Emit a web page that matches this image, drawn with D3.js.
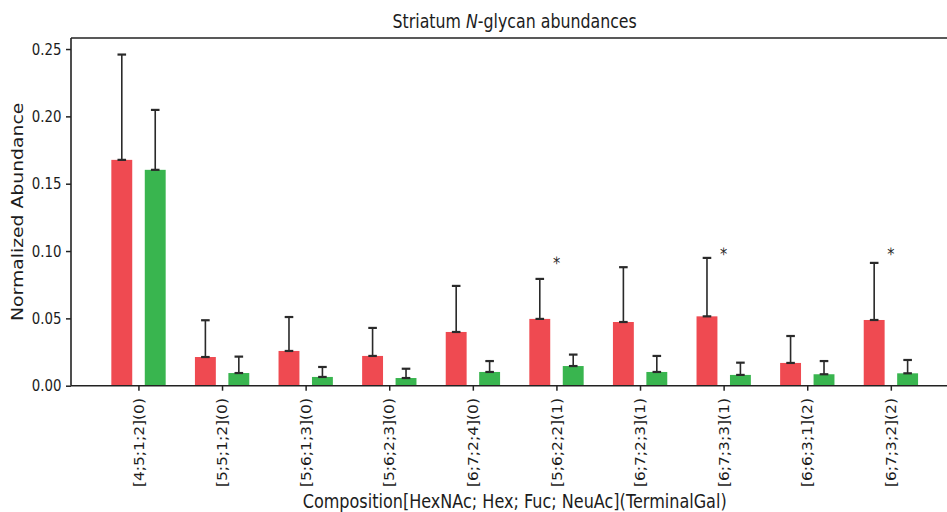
<!DOCTYPE html>
<html>
<head>
<meta charset="utf-8">
<script src="https://cdn.jsdelivr.net/npm/d3@7"></script>
<style>
  html, body { margin: 0; padding: 0; background: #fff; }
  svg { display: block; }
  text { font-family: "DejaVu Sans", sans-serif; fill: #1c1c1c; }
</style>
</head>
<body>
<svg id="chart" width="947" height="512"></svg>
<script>
// Glycan compositions [HexNAc; Hex; Fuc; NeuAc](TerminalGal)
const categories = [
  "[4;5;1;2](0)", "[5;5;1;2](0)", "[5;6;1;3](0)", "[5;6;2;3](0)", "[6;7;2;4](0)",
  "[5;6;2;2](1)", "[6;7;2;3](1)", "[6;7;3;3](1)", "[6;6;3;1](2)", "[6;7;3;2](2)"
];

// Mean normalized abundance per group
const seriesA = [0.1677, 0.0213, 0.0258, 0.0221, 0.0399, 0.0496, 0.0473, 0.0515, 0.0169, 0.0488];
const seriesB = [0.1603, 0.0094, 0.0065, 0.0057, 0.0102, 0.0146, 0.0102, 0.0080, 0.0085, 0.0092];

// Upper error (standard deviation) per group
const errorA = [0.0782, 0.0273, 0.0252, 0.0208, 0.0342, 0.0297, 0.0407, 0.0434, 0.0200, 0.0424];
const errorB = [0.0445, 0.0122, 0.0074, 0.0069, 0.0081, 0.0085, 0.0119, 0.0091, 0.0098, 0.0099];

// Significance markers: category index and height of the star
const significance = [
  { index: 5, y: 0.0939 },
  { index: 7, y: 0.1008 },
  { index: 9, y: 0.1008 }
];

const yTicks = [0.00, 0.05, 0.10, 0.15, 0.20, 0.25];

const xLabel = "Composition[HexNAc; Hex; Fuc; NeuAc](TerminalGal)";
const yLabel = "Normalized Abundance";

const colorA = "#ef4a51";
const colorB = "#39b54f";
const ink = "#222222";

// The figure is laid out in a wider frame and compressed horizontally.
const sx = 0.85;
const px = v => v / sx; // screen x -> frame x

const margin = { left: px(71), top: 38 };
const plotRight = px(958.4);
const plotBottom = 385.7;

const barOffset = 0.2, barWidth = 0.25;
const dataMin = -barOffset - barWidth / 2;
const dataMax = categories.length - 1 + barOffset + barWidth / 2;
const pad = (dataMax - dataMin) * 0.05;

const x = d3.scaleLinear()
  .domain([dataMin - pad, dataMax + pad])
  .range([margin.left, plotRight]);

const yMax = d3.max(seriesA.map((v, i) => v + errorA[i]).concat(seriesB.map((v, i) => v + errorB[i]))) * 1.05;
const y = d3.scaleLinear().domain([0, yMax]).range([plotBottom, margin.top]);

const svg = d3.select("#chart");
const root = svg.append("g").attr("transform", `scale(${sx},1)`);

// Bars
const groups = [
  { values: seriesA, errors: errorA, color: colorA, shift: -barOffset },
  { values: seriesB, errors: errorB, color: colorB, shift: barOffset }
];

groups.forEach(g => {
  root.append("g").selectAll("rect")
    .data(g.values)
    .join("rect")
    .attr("x", (d, i) => x(i + g.shift - barWidth / 2))
    .attr("width", x(barWidth) - x(0))
    .attr("y", d => y(d))
    .attr("height", d => y(0) - y(d))
    .attr("fill", g.color);
});

// Upper error bars with caps
const capHalf = px(4.3);
groups.forEach(g => {
  const eb = root.append("g").attr("stroke", "#2a2a2a").attr("fill", "none");
  g.values.forEach((v, i) => {
    const cx = x(i + g.shift);
    const y0 = y(v), y1 = y(v + g.errors[i]);
    eb.append("line").attr("x1", cx).attr("x2", cx).attr("y1", y0).attr("y2", y1)
      .attr("stroke-width", 1.9);
    [y0, y1].forEach(yy => {
      eb.append("line").attr("x1", cx - capHalf).attr("x2", cx + capHalf)
        .attr("y1", yy).attr("y2", yy).attr("stroke-width", 2.2);
    });
  });
});

// Significance stars
root.append("g").selectAll("text")
  .data(significance)
  .join("text")
  .attr("x", d => x(d.index))
  .attr("y", d => y(d.y) + 10)
  .attr("text-anchor", "middle")
  .style("font-size", "17px")
  .style("fill", "#2a2a2a")
  .style("text-rendering", "geometricPrecision")
  .text("*");

// Y axis
const yAxis = d3.axisLeft(y)
  .tickValues(yTicks)
  .tickFormat(d3.format(".2f"))
  .tickSize(px(5))
  .tickPadding(px(4.5));
const yg = root.append("g").attr("transform", `translate(${margin.left},0)`).call(yAxis);
yg.select(".domain").remove();
yg.selectAll(".tick line").attr("stroke", ink).attr("stroke-width", 1.5);
yg.selectAll(".tick text").style("font-size", "15.7px").style("font-family", "DejaVu Sans").attr("fill", "#1c1c1c");

// X axis
const xAxis = d3.axisBottom(x)
  .tickValues(d3.range(categories.length))
  .tickFormat(i => categories[i])
  .tickSize(5);
const xg = root.append("g").attr("transform", `translate(0,${plotBottom})`).call(xAxis);
xg.select(".domain").remove();
xg.selectAll(".tick line").attr("stroke", ink).attr("stroke-width", px(1.5));
xg.selectAll(".tick text")
  .style("font-size", "15.5px").style("font-family", "DejaVu Sans").attr("fill", "#1c1c1c")
  .attr("transform", "rotate(-90)")
  .attr("text-anchor", "end")
  .attr("x", -12.3)
  .attr("y", 0)
  .attr("dy", "0.35em");

// Spines: left, bottom, top (right edge falls outside the view)
const spines = root.append("g").attr("stroke", ink).attr("stroke-width", 1.6).attr("fill", "none");
spines.append("line").attr("x1", margin.left).attr("x2", margin.left).attr("y1", margin.top).attr("y2", plotBottom)
  .attr("stroke-width", px(1.6));
spines.append("line").attr("x1", margin.left).attr("x2", plotRight).attr("y1", plotBottom).attr("y2", plotBottom);
spines.append("line").attr("x1", margin.left).attr("x2", plotRight).attr("y1", margin.top).attr("y2", margin.top);
spines.append("line").attr("x1", plotRight).attr("x2", plotRight).attr("y1", margin.top).attr("y2", plotBottom)
  .attr("stroke-width", px(1.6));

// Title with italic N
const t = root.append("text")
  .attr("x", (margin.left + plotRight) / 2)
  .attr("y", 28)
  .attr("text-anchor", "middle")
  .style("font-size", "18.6px");
t.append("tspan").text("Striatum ");
t.append("tspan").style("font-style", "italic").text("N");
t.append("tspan").text("-glycan abundances");

// Axis labels
root.append("text")
  .attr("x", (margin.left + plotRight) / 2)
  .attr("y", 508)
  .attr("text-anchor", "middle")
  .style("font-size", "18.9px")
  .text(xLabel);

root.append("text")
  .attr("transform", `translate(${px(23.3)},${(margin.top + plotBottom) / 2}) rotate(-90)`)
  .attr("text-anchor", "middle")
  .style("font-size", "18.8px")
  .text(yLabel);
</script>
</body>
</html>
